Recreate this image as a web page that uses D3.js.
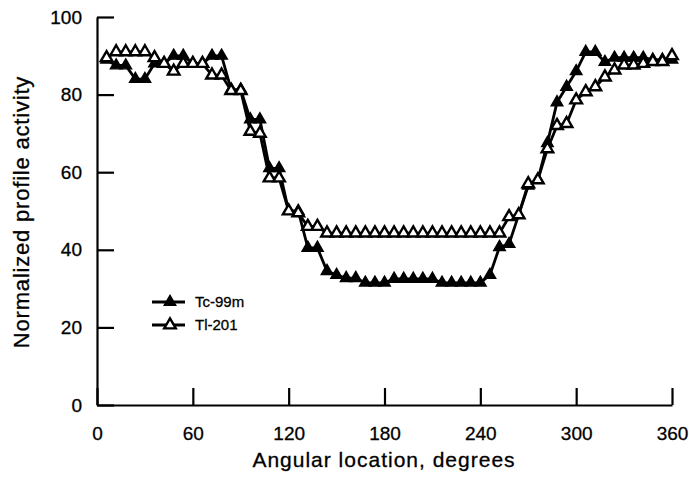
<!DOCTYPE html>
<html>
<head>
<meta charset="utf-8">
<script src="https://cdn.jsdelivr.net/npm/d3@7"></script>
<style>
  body { margin: 0; background: #fff; }
  text { font-family: "Liberation Sans", Arial, Helvetica, sans-serif; fill: #000; stroke: #000; stroke-width: 0.3px; }
</style>
</head>
<body>
<svg id="chart" width="689" height="483"></svg>
<script>
// angular location of each profile sample (degrees)
var angles = [6, 12, 18, 24, 30, 36, 42, 48, 54, 60,
              66, 72, 78, 84, 90, 96, 102, 108, 114, 120,
              126, 132, 138, 144, 150, 156, 162, 168, 174, 180,
              186, 192, 198, 204, 210, 216, 222, 228, 234, 240,
              246, 252, 258, 264, 270, 276, 282, 288, 294, 300,
              306, 312, 318, 324, 330, 336, 342, 348, 354, 360];

// Tc-99m, filled triangles
var tcValues = [89, 87.5, 87.5, 84, 84, 88, 88, 90, 90, 88,
                88, 90, 90, 81.3, 81.3, 73.6, 73.6, 61, 61, 50,
                50, 40.5, 40.5, 34.5, 33.5, 32.7, 32.7, 31.5, 31.5, 31.5,
                32.5, 32.5, 32.5, 32.5, 32.5, 31.5, 31.5, 31.5, 31.5, 31.5,
                33.5, 40.7, 41.5, 49, 56.5, 58, 67.5, 78, 82, 86,
                91, 91, 88.4, 89.5, 89.5, 89.5, 89.5, 89, 89, 89];

// Tl-201, open triangles
var tlValues = [89.5, 91, 91, 91, 91, 89.5, 88, 86, 88, 88,
                88, 85, 85, 81, 81, 70.5, 70, 58.5, 58.5, 50,
                49.5, 46, 46, 44.3, 44.3, 44.3, 44.3, 44.3, 44.3, 44.3,
                44.3, 44.3, 44.3, 44.3, 44.3, 44.3, 44.3, 44.3, 44.3, 44.3,
                44.3, 44.3, 48.5, 49, 57, 58, 66, 72, 72.5, 78.6,
                80.7, 82, 84.5, 86.3, 87.6, 87.6, 88, 88.5, 88.5, 90];

var xTicks = [0, 60, 120, 180, 240, 300, 360];
var yTicks = [0, 20, 40, 60, 80, 100];
var seriesNames = ["Tc-99m", "Tl-201"];

var svg = d3.select("#chart");

var x = d3.scaleLinear().domain([0, 360]).range([97, 672]);
var y = d3.scaleLinear().domain([0, 100]).range([405, 17]);

// axes, ticks pointing inward
var xAxis = d3.axisBottom(x).tickValues(xTicks).tickSizeInner(-17).tickSizeOuter(0).tickPadding(22);
var yAxis = d3.axisLeft(y).tickValues(yTicks).tickSizeInner(-17).tickSizeOuter(0).tickPadding(15);

var gx = svg.append("g").attr("transform", "translate(0,405)").call(xAxis);
var gy = svg.append("g").attr("transform", "translate(97,0)").call(yAxis);

[gx, gy].forEach(function(g){
	g.selectAll("path, line").attr("stroke", "#000").attr("stroke-width", 2.2);
	g.selectAll("text").attr("font-size", 19).attr("fill", "#000")
		.style("font-family", "'Liberation Sans', Arial, sans-serif");
});

svg.append("text")
	.attr("x", 384).attr("y", 467)
	.attr("text-anchor", "middle")
	.attr("font-size", 21)
	.attr("letter-spacing", 1)
	.text("Angular location, degrees");

svg.append("text")
	.attr("transform", "translate(29,212) rotate(-90)")
	.attr("text-anchor", "middle")
	.attr("font-size", 22)
	.attr("letter-spacing", 0.8)
	.text("Normalized profile activity");

var line = d3.line()
	.x(function(d){ return x(d[0]); })
	.y(function(d){ return y(d[1]); });

var tri = d3.symbol().type(d3.symbolTriangle).size(58);

function drawSeries(values, open){
	var pts = angles.map(function(a, i){ return [a, values[i]]; });
	svg.append("path")
		.datum(pts)
		.attr("d", line)
		.attr("fill", "none")
		.attr("stroke", "#000")
		.attr("stroke-width", 2.8);
	svg.append("g").selectAll("path").data(pts).enter().append("path")
		.attr("d", tri)
		.attr("transform", function(d){ return "translate(" + x(d[0]) + "," + y(d[1]) + ")"; })
		.attr("fill", open ? "#fff" : "#000")
		.attr("stroke", "#000")
		.attr("stroke-width", open ? 2.4 : 1.4);
}

drawSeries(tcValues, false);
drawSeries(tlValues, true);

// legend
var legend = svg.append("g");
seriesNames.forEach(function(name, i){
	var ly = 302 + i * 23;
	legend.append("line")
		.attr("x1", 152).attr("x2", 185).attr("y1", ly).attr("y2", ly)
		.attr("stroke", "#000").attr("stroke-width", 2.8);
	legend.append("path")
		.attr("d", tri)
		.attr("transform", "translate(170," + ly + ")")
		.attr("fill", i == 0 ? "#000" : "#fff")
		.attr("stroke", "#000")
		.attr("stroke-width", i == 0 ? 1.4 : 2.4);
	legend.append("text")
		.attr("x", 195).attr("y", ly)
		.attr("dy", "0.36em")
		.attr("font-size", 15)
		.text(name);
});
</script>
</body>
</html>
